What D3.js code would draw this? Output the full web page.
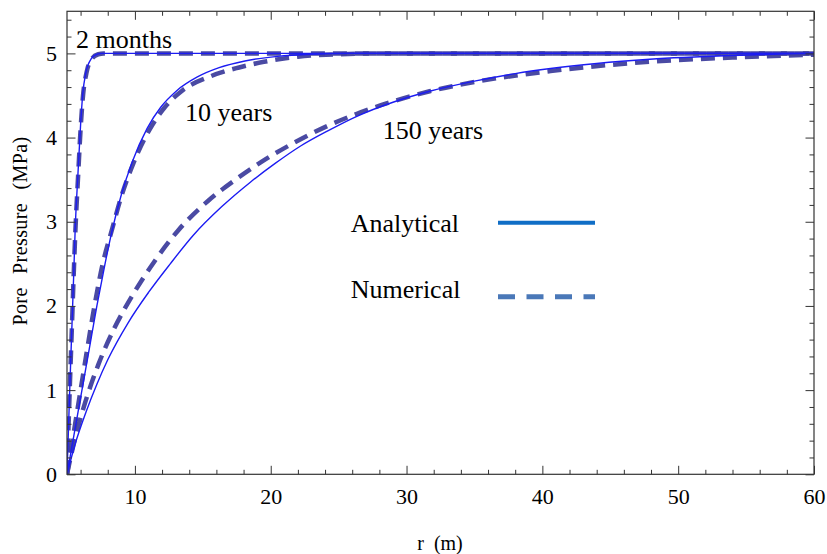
<!DOCTYPE html>
<html><head><meta charset="utf-8">
<script src="https://cdn.jsdelivr.net/npm/d3@7"></script>
<style>
body{margin:0;background:#fff}
svg{display:block}
text{font-family:"Liberation Serif","Times New Roman",serif;fill:#000}
</style>
</head><body>
<svg id="c" width="827" height="554"></svg>
<script>
// ---- data ----
const xTicks = [10, 20, 30, 40, 50, 60];
const yTicks = [0, 1, 2, 3, 4, 5];
const xMinorTicks = [6, 8, 12, 14, 16, 18, 22, 24, 26, 28, 32, 34, 36, 38, 42, 44, 46, 48, 52, 54, 56, 58];
const yMinorTicks = [0.2, 0.4, 0.6, 0.8, 1.2, 1.4, 1.6, 1.8, 2.2, 2.4, 2.6, 2.8, 3.2, 3.4, 3.6, 3.8, 4.2, 4.4, 4.6, 4.8, 5.2, 5.4];
const curveLabels = ["2 months", "10 years", "150 years"];
const legendLabels = ["Analytical", "Numerical"];
const xLabel = "r (m)";
const yLabel = "Pore Pressure (MPa)";

// 2 months
const r2mA = [5, 5.1, 5.2, 5.35, 5.5, 5.6, 5.8, 6.0, 6.15, 6.4, 6.8, 7.2, 7.6, 60];
const p2mA = [0, 0.5, 1.0, 1.7, 2.4, 2.9, 3.55, 4.15, 4.5, 4.78, 4.94, 4.99, 5, 5];
const r2mN = [5, 5.1, 5.2, 5.35, 5.5, 5.62, 5.82, 6.02, 6.18, 6.45, 6.85, 7.3, 7.7, 60];
const p2mN = [0, 0.5, 1.0, 1.7, 2.4, 2.9, 3.55, 4.15, 4.5, 4.78, 4.94, 4.99, 5, 5];
// 10 years
const r10A = [5, 5.55, 6.1, 6.65, 7.2, 7.8, 8.3, 9.0, 9.8, 10.9, 11.9, 13.1, 14.6, 16.2, 18.1, 20.5, 23, 26, 60];
const p10A = [0, 0.5, 1.0, 1.5, 2.0, 2.5, 2.88, 3.32, 3.71, 4.11, 4.36, 4.56, 4.72, 4.83, 4.91, 4.965, 4.99, 5, 5];
const r10N = [5, 5.5, 6.0, 6.5, 7.0, 7.6, 8.3, 9.0, 9.9, 11.1, 12.2, 13.5, 15.6, 17.6, 19.5, 22, 25, 28, 60];
const p10N = [0, 0.5, 1.0, 1.5, 1.98, 2.48, 2.9, 3.3, 3.7, 4.1, 4.36, 4.56, 4.73, 4.83, 4.9, 4.96, 4.99, 5, 5];
// 150 years
const r150A = [5, 5.6, 6.4, 7.2, 8.0, 9.5, 11.0, 12.6, 14.3, 16.4, 18.5, 20.3, 22.2, 24.2, 26.3, 29, 31.7, 35, 38, 40.6, 44, 47.9, 54, 60];
const p150A = [0, 0.36, 0.74, 1.07, 1.36, 1.8, 2.16, 2.5, 2.84, 3.18, 3.47, 3.69, 3.9, 4.08, 4.25, 4.42, 4.55, 4.67, 4.76, 4.82, 4.88, 4.93, 4.975, 5.0];
const r150N = [5, 5.45, 6.2, 7.3, 8.5, 9.8, 11.4, 13.2, 15.4, 17.4, 19.4, 22.2, 24.2, 26.3, 29, 31.7, 35, 40.6, 47.9, 54, 60];
const p150N = [0, 0.33, 0.78, 1.3, 1.74, 2.12, 2.52, 2.9, 3.25, 3.5, 3.72, 3.98, 4.14, 4.28, 4.43, 4.55, 4.66, 4.79, 4.9, 4.95, 4.985];

const analytical = [[r2mA, p2mA], [r10A, p10A], [r150A, p150A]];
const numerical = [[r2mN, p2mN], [r10N, p10N], [r150N, p150N]];

// ---- layout ----
const L = 67, R = 814, T = 11.3, B = 474.3;
const svg = d3.select("#c");
const x = d3.scaleLinear().domain([5, 60]).range([L, R]);
const y = d3.scaleLinear().domain([0, 5.5]).range([B, T]);

const line = d3.line().x(d => x(d[0])).y(d => y(d[1])).curve(d3.curveMonotoneX);
const zip = (rs, ps) => rs.map((r, i) => [r, ps[i]]);

svg.append("clipPath").attr("id", "pc").append("rect")
  .attr("x", L).attr("y", T).attr("width", R - L).attr("height", B - T);
const plot = svg.append("g").attr("clip-path", "url(#pc)");

numerical.forEach(([rs, ps]) => {
  plot.append("path").datum(zip(rs, ps)).attr("d", line)
    .attr("fill", "none").attr("stroke", "#40409e").attr("stroke-width", 4.5)
    .attr("stroke-dasharray", "14 8").attr("opacity", 0.95);
});
analytical.forEach(([rs, ps]) => {
  plot.append("path").datum(zip(rs, ps)).attr("d", line)
    .attr("fill", "none").attr("stroke", "#1c1cf2").attr("stroke-width", 1.4);
});

// ---- axes ----
function styleAxis(g) {
  g.select(".domain").remove();
  g.selectAll(".tick line").attr("stroke", "#333").attr("stroke-width", 1);
  g.selectAll(".tick text").style("font-family", '"Liberation Serif","Times New Roman",serif')
    .style("font-size", "22px").attr("fill", "#000");
}
svg.append("g").attr("transform", `translate(0,${B})`)
  .call(d3.axisBottom(x).tickValues(xMinorTicks).tickSize(-4.5).tickFormat("")).call(styleAxis);
svg.append("g").attr("transform", `translate(0,${B})`)
  .call(d3.axisBottom(x).tickValues(xTicks).tickSize(-8.5).tickPadding(14).tickFormat(d3.format("d"))).call(styleAxis);
svg.append("g").attr("transform", `translate(0,${T})`)
  .call(d3.axisTop(x).tickValues(xMinorTicks).tickSize(-4.5).tickFormat("")).call(styleAxis);
svg.append("g").attr("transform", `translate(0,${T})`)
  .call(d3.axisTop(x).tickValues(xTicks).tickSize(-8.5).tickFormat("")).call(styleAxis);
svg.append("g").attr("transform", `translate(${L},0)`)
  .call(d3.axisLeft(y).tickValues(yMinorTicks).tickSize(-4.5).tickFormat("")).call(styleAxis);
svg.append("g").attr("transform", `translate(${L},0)`)
  .call(d3.axisLeft(y).tickValues(yTicks).tickSize(-8.5).tickPadding(10).tickFormat(d3.format("d"))).call(styleAxis);
svg.append("g").attr("transform", `translate(${R},0)`)
  .call(d3.axisRight(y).tickValues(yMinorTicks).tickSize(-4.5).tickFormat("")).call(styleAxis);
svg.append("g").attr("transform", `translate(${R},0)`)
  .call(d3.axisRight(y).tickValues(yTicks).tickSize(-8.5).tickFormat("")).call(styleAxis);

svg.append("rect").attr("x", L).attr("y", T).attr("width", R - L).attr("height", B - T)
  .attr("fill", "none").attr("stroke", "#333").attr("stroke-width", 1.2);

// ---- curve labels ----
const labelPos = [[76, 47.7], [185, 121], [382.7, 139.3]];
curveLabels.forEach((t, i) => {
  svg.append("text").attr("x", labelPos[i][0]).attr("y", labelPos[i][1])
    .style("font-size", "26px").text(t);
});

// ---- legend ----
svg.append("text").attr("x", 350.7).attr("y", 231.7).style("font-size", "26px").text(legendLabels[0]);
svg.append("text").attr("x", 350.7).attr("y", 298).style("font-size", "26px").text(legendLabels[1]);
svg.append("line").attr("x1", 498).attr("x2", 595).attr("y1", 222.7).attr("y2", 222.7)
  .attr("stroke", "#106ec6").attr("stroke-width", 4);
svg.append("line").attr("x1", 498).attr("x2", 595).attr("y1", 296.7).attr("y2", 296.7)
  .attr("stroke", "#4a78b8").attr("stroke-width", 5).attr("stroke-dasharray", "17 11.5");

// ---- axis titles ----
svg.append("text").attr("x", 440).attr("y", 550).attr("text-anchor", "middle")
  .style("font-size", "20px").style("word-spacing", "5px").text(xLabel);
svg.append("text").attr("transform", "translate(27,231) rotate(-90)").attr("text-anchor", "middle")
  .style("font-size", "20px").style("word-spacing", "8px").style("letter-spacing", "0.4px").text(yLabel);
</script>
</body></html>
